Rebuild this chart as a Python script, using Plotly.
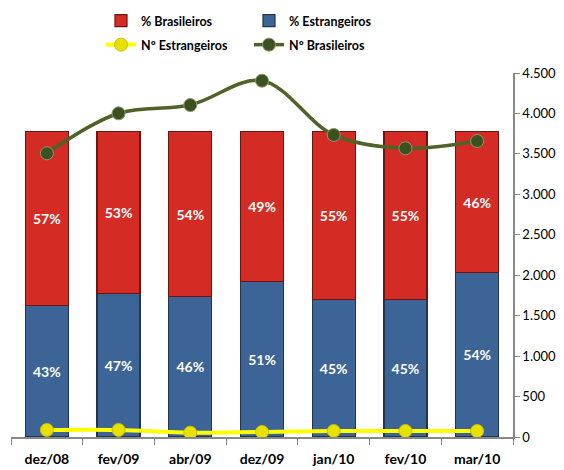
import plotly.graph_objects as go

categories = ["dez/08", "fev/09", "abr/09", "dez/09", "jan/10", "fev/10", "mar/10"]
pct_brasileiros = [57, 53, 54, 49, 55, 55, 46]
pct_estrangeiros = [43, 47, 46, 51, 45, 45, 54]
n_estrangeiros = [87, 87, 53, 62, 74, 74, 74]
n_brasileiros = [3507, 4002, 4104, 4405, 3734, 3569, 3659]
right_ticks = [0, 500, 1000, 1500, 2000, 2500, 3000, 3500, 4000, 4500]

FONT = "Lato"
W, H = 556, 462

fig = go.Figure()
fig.add_trace(go.Bar(
    x=categories, y=pct_estrangeiros, name="% Estrangeiros",
    marker=dict(color="#3D6496", line=dict(color="#1F3550", width=1.2)),
    text=[f"{v}%" for v in pct_estrangeiros], textposition="inside",
    insidetextanchor="middle",
    textfont=dict(color="white", size=14, family=FONT, weight="bold"),
    width=0.6, legendrank=2, legend="legend",
))
fig.add_trace(go.Bar(
    x=categories, y=pct_brasileiros, name="% Brasileiros",
    marker=dict(color="#D42C25", line=dict(color="#6E1512", width=1.2)),
    text=[f"{v}%" for v in pct_brasileiros], textposition="inside",
    insidetextanchor="middle",
    textfont=dict(color="white", size=14, family=FONT, weight="bold"),
    width=0.6, legendrank=1, legend="legend",
))
fig.add_trace(go.Scatter(
    x=categories, y=n_estrangeiros, name="Nº Estrangeiros", yaxis="y2",
    mode="lines+markers", line=dict(color="#FFFF00", width=4, shape="spline"),
    marker=dict(color="#E8E000", size=13, line=dict(color="#C8C000", width=1)),
    legendrank=3, legend="legend2",
))
fig.add_trace(go.Scatter(
    x=categories, y=n_brasileiros, name="Nº Brasileiros", yaxis="y2",
    mode="lines+markers", line=dict(color="#4F6228", width=3.5, shape="spline"),
    marker=dict(color="#3C5020", size=13, line=dict(color="#8A9A70", width=1)),
    legendrank=4, legend="legend2",
))

legend_common = dict(
    orientation="h", xref="container", yref="container",
    xanchor="left", yanchor="middle",
    entrywidth=103, entrywidthmode="pixels",
    font=dict(size=12.5, family=FONT, weight="bold"),
    traceorder="normal", itemwidth=30, tracegroupgap=0,
    bgcolor="rgba(0,0,0,0)",
)

fig.update_layout(
    width=W, height=H,
    margin=dict(l=3, r=51, t=65, b=33, autoexpand=False),
    paper_bgcolor="white", plot_bgcolor="white",
    barmode="stack", bargap=0.4,
    separators=",.",
    font=dict(family=FONT, color="black", size=12),
    showlegend=True,
    legend=dict(legend_common, x=93 / W, y=1 - 13 / H),
    legend2=dict(legend_common, x=93 / W, y=1 - 37 / H),
    xaxis=dict(
        showline=True, linecolor="#888888", linewidth=1.5,
        ticks="outside", tickson="boundaries", ticklen=6, tickcolor="#888888",
        tickfont=dict(size=14, family=FONT, weight="bold"),
        ticklabelstandoff=8,
        showgrid=False,
    ),
    yaxis=dict(range=[0, 119.3], visible=False, showgrid=False),
    yaxis2=dict(
        overlaying="y", side="right", range=[0, 4500],
        tickvals=right_ticks, tickformat=",d",
        showline=True, linecolor="#888888", linewidth=1.5,
        ticks="outside", ticklen=5, tickcolor="#888888",
        tickfont=dict(size=13, family=FONT),
        showgrid=False, zeroline=False,
    ),
)

fig.write_html("out.html")
